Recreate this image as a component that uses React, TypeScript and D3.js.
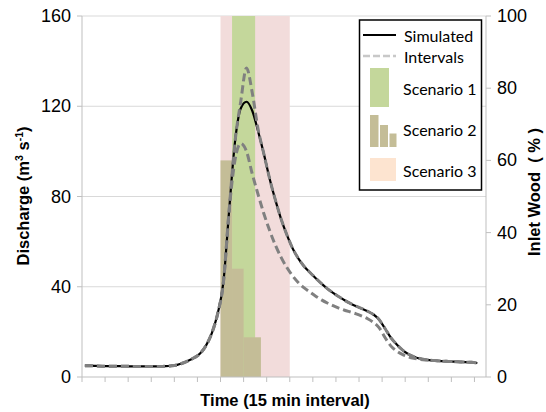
import React from 'react';
import * as d3 from 'd3';

const W = 546;
const H = 412;

// Time index (15-min intervals), first sample at 0.5
const timeStart = 0.5;
const simulated = [
  5.0, 5.0, 4.9, 4.8, 4.8, 4.8, 4.8, 4.8, 4.7, 4.7,
  4.7, 4.7, 4.7, 4.7, 4.8, 5.0, 5.4, 6.2, 7.3, 8.6,
  10.5, 14, 19.5, 28, 42, 74, 104, 119, 122, 118,
  109, 99, 88, 78.5, 70, 63, 57, 52.5, 49, 46.3,
  43.8, 41.4, 39.2, 37.3, 35.6, 34, 32.6, 31.4, 30.3, 29.1,
  27.7, 25.4, 21.5, 17.5, 14.5, 12, 10.2, 9, 8.2, 7.7,
  7.4, 7.2, 7.0, 6.9, 6.8, 6.7, 6.6, 6.5, 6.2,
];
const upperInterval = [
  5.0, 5.0, 4.9, 4.8, 4.8, 4.8, 4.8, 4.8, 4.7, 4.7,
  4.7, 4.7, 4.7, 4.7, 4.8, 5.0, 5.4, 6.2, 7.3, 8.6,
  10.5, 14, 19.5, 28, 42, 74, 104, 122, 137, 126,
  110, 99, 88, 78.5, 70, 63, 57, 52.5, 49, 46.3,
  43.8, 41.4, 39.2, 37.3, 35.6, 34, 32.6, 31.4, 30.3, 29.1,
  27.7, 25.4, 21.5, 17.5, 14.5, 12, 10.2, 9, 8.2, 7.7,
  7.4, 7.2, 7.0, 6.9, 6.8, 6.7, 6.6, 6.5, 6.2,
];
const lowerInterval = [
  5.0, 5.0, 4.9, 4.8, 4.8, 4.8, 4.8, 4.8, 4.7, 4.7,
  4.7, 4.7, 4.7, 4.7, 4.8, 5.0, 5.4, 6.2, 7.3, 8.6,
  10.5, 14, 19.5, 28, 42, 74, 96, 103.5, 100, 90,
  81, 72.5, 65, 58.5, 53, 48.5, 44.8, 41.8, 39.5, 37.6,
  35.8, 34.2, 32.8, 31.6, 30.5, 29.6, 28.8, 28, 27, 25.8,
  24.2, 21.8, 17.5, 13.8, 11.5, 10, 9, 8.3, 7.8, 7.5,
  7.4, 7.2, 7.0, 6.9, 6.8, 6.7, 6.6, 6.5, 6.2,
];

// Inlet wood scenarios (right axis, %)
const scenario1Start = [26];
const scenario1End = [30];
const scenario1Value = [100];
const scenario2Start = [24, 26, 28];
const scenario2End = [26, 28, 31];
const scenario2Value = [60, 30, 11];
const scenario3Start = [24];
const scenario3End = [36];
const scenario3Value = [100];

const leftTicks = [0, 40, 80, 120, 160];
const rightTicks = [0, 20, 40, 60, 80, 100];
const xTicks = [0, 4, 8, 12, 16, 20, 24, 28, 32, 36, 40, 44, 48, 52, 56, 60, 64, 68];

const C_GREEN = '#c4d79b';
const C_KHAKI = '#c4bd97';
const C_PINK = '#f2dcdb';
const C_PEACH = '#fde4d0';
const C_AXIS = '#bfbfbf';
const C_GRID = '#d9d9d9';

export default function App() {
  const x = d3.scaleLinear().domain([0, 70]).range([82, 486]);
  const yL = d3.scaleLinear().domain([0, 160]).range([377, 16]);
  const yR = d3.scaleLinear().domain([0, 100]).range([377, 16]);

  const mk = (vals: number[]) =>
    d3
      .line<number>()
      .x((_, i) => x(timeStart + i))
      .y((v) => yL(v))
      .curve(d3.curveMonotoneX)(vals) || '';

  const bars = (s: number[], e: number[], v: number[], fill: string, key: string) =>
    s.map((st, i) => (
      <rect
        key={key + i}
        x={x(st)}
        y={yR(v[i])}
        width={x(e[i]) - x(st)}
        height={yR(0) - yR(v[i])}
        fill={fill}
      />
    ));

  const tickFont = { fontFamily: 'Liberation Sans, Arial, sans-serif', fontSize: 18, fill: '#000' };
  const titleFont = { fontFamily: 'Liberation Sans, Arial, sans-serif', fontSize: 16.5, fontWeight: 700, fill: '#000' };
  const legFont = { fontFamily: 'Lato, Open Sans, sans-serif', fontSize: 16, fill: '#000' };

  return (
    <svg width={W} height={H} style={{ position: 'absolute', left: 0, top: 0, background: '#fff' }}>
      <rect x={0} y={0} width={W} height={H} fill="#fff" />
      {/* gridlines */}
      {leftTicks.slice(1).map((t) => (
        <line key={'g' + t} x1={82} x2={486} y1={yL(t)} y2={yL(t)} stroke={C_GRID} strokeWidth={1} />
      ))}
      {/* bars */}
      {bars(scenario3Start, scenario3End, scenario3Value, C_PINK, 's3')}
      {bars(scenario1Start, scenario1End, scenario1Value, C_GREEN, 's1')}
      {bars(scenario2Start, scenario2End, scenario2Value, C_KHAKI, 's2')}
      {/* axes */}
      <line x1={82} x2={82} y1={16} y2={377} stroke={C_AXIS} />
      <line x1={486} x2={486} y1={16} y2={377} stroke={C_AXIS} />
      <line x1={82} x2={486} y1={377} y2={377} stroke={C_AXIS} />
      {leftTicks.map((t) => (
        <line key={'lt' + t} x1={77} x2={82} y1={yL(t)} y2={yL(t)} stroke={C_AXIS} />
      ))}
      {rightTicks.map((t) => (
        <line key={'rt' + t} x1={486} x2={491} y1={yR(t)} y2={yR(t)} stroke={C_AXIS} />
      ))}
      {xTicks.map((t) => (
        <line key={'xt' + t} x1={x(t)} x2={x(t)} y1={377} y2={382} stroke={C_AXIS} />
      ))}
      {/* lines */}
      <path d={mk(simulated)} fill="none" stroke="#000" strokeWidth={2.2} />
      <path d={mk(upperInterval)} fill="none" stroke="#808080" strokeWidth={3} strokeDasharray="8,4" />
      <path d={mk(lowerInterval)} fill="none" stroke="#808080" strokeWidth={3} strokeDasharray="8,4" />
      {/* tick labels */}
      {leftTicks.map((t) => (
        <text key={'ll' + t} x={71} y={yL(t)} textAnchor="end" dominantBaseline="central" style={tickFont}>
          {t}
        </text>
      ))}
      {rightTicks.map((t) => (
        <text key={'rl' + t} x={497} y={yR(t)} textAnchor="start" dominantBaseline="central" style={tickFont}>
          {t}
        </text>
      ))}
      {/* axis titles */}
      <text transform="translate(29,196) rotate(-90)" textAnchor="middle" style={titleFont}>
        Discharge (m<tspan dy={-6} fontSize={10.5}>3</tspan>
        <tspan dy={6}> s</tspan>
        <tspan dy={-6} fontSize={10.5}>-1</tspan>
        <tspan dy={6}>)</tspan>
      </text>
      <text transform="translate(540,192) rotate(-90)" textAnchor="middle" style={{ ...titleFont, whiteSpace: 'pre' }}>
        {'Inlet Wood  ( % )'}
      </text>
      <text x={285} y={406} textAnchor="middle" style={titleFont}>
        Time (15 min interval)
      </text>
      {/* legend */}
      <rect x={359.5} y={20} width={122} height={170} fill="#fff" stroke="#000" strokeWidth={1.5} />
      <line x1={363} x2={396} y1={35} y2={35} stroke="#000" strokeWidth={2} />
      <text x={404} y={35} dominantBaseline="central" style={legFont}>Simulated</text>
      <line x1={363} x2={396} y1={56} y2={56} stroke="#c8c8c8" strokeWidth={2.5} strokeDasharray="7,3" />
      <text x={404} y={56} dominantBaseline="central" style={legFont}>Intervals</text>
      <rect x={370} y={68} width={19} height={39} fill={C_GREEN} />
      <text x={403} y={88} dominantBaseline="central" style={legFont}>Scenario 1</text>
      <rect x={370} y={115} width={8.5} height={32} fill={C_KHAKI} />
      <rect x={380} y={125} width={8} height={22} fill={C_KHAKI} />
      <rect x={389.5} y={133.5} width={7} height={13.5} fill={C_KHAKI} />
      <text x={403} y={129} dominantBaseline="central" style={legFont}>Scenario 2</text>
      <rect x={370} y={158} width={26} height={23} fill={C_PEACH} />
      <text x={403} y={170} dominantBaseline="central" style={legFont}>Scenario 3</text>
    </svg>
  );
}
